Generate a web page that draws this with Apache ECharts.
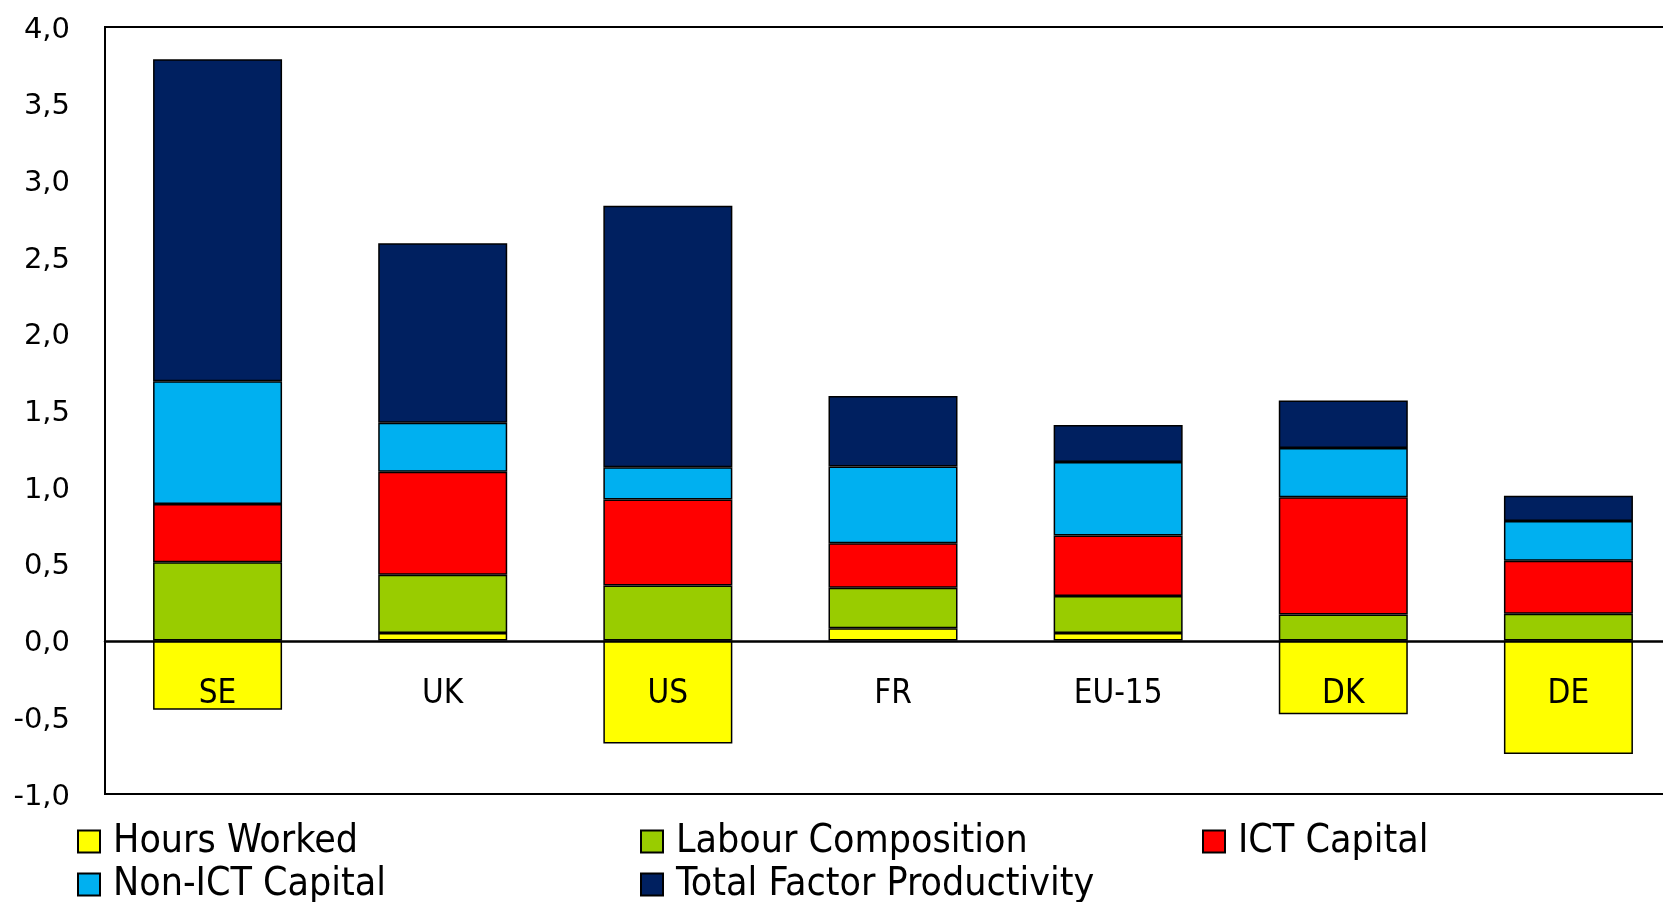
<!DOCTYPE html>
<html>
<head>
<meta charset="utf-8">
<title>Growth contributions</title>
<script src="https://cdn.jsdelivr.net/npm/echarts@6/dist/echarts.min.js"></script>
<style>
  html, body { margin: 0; padding: 0; background: #fff; overflow: hidden; }
  #chart { width: 1700px; height: 902px; }
</style>
</head>
<body>
<div id="chart"></div>
<script>
// Countries / regions on the category axis
const categories = ['SE', 'UK', 'US', 'FR', 'EU-15', 'DK', 'DE'];

// Contributions to growth, percentage points
const hoursWorked        = [-0.45, 0.05, -0.67, 0.08, 0.05, -0.48, -0.74];
const labourComposition  = [0.51, 0.38, 0.36, 0.265, 0.24, 0.17, 0.175];
const ictCapital         = [0.38, 0.67, 0.56, 0.29, 0.395, 0.765, 0.345];
const nonIctCapital      = [0.80, 0.32, 0.21, 0.50, 0.48, 0.32, 0.26];
const tfp                = [2.10, 1.17, 1.705, 0.46, 0.24, 0.31, 0.165];

const seriesNames = ['Hours Worked', 'Labour Composition', 'ICT Capital', 'Non-ICT Capital', 'Total Factor Productivity'];
const seriesColors = ['#FFFF00', '#99CC00', '#FF0000', '#00B0F0', '#002060'];
const seriesData = [hoursWorked, labourComposition, ictCapital, nonIctCapital, tfp];

const narrowFont = '"Liberation Sans Narrow", "DejaVu Sans Condensed", "Roboto Condensed", sans-serif';

const chart = echarts.init(document.getElementById('chart'), null, { renderer: 'canvas' });

const series = seriesNames.map((name, i) => ({
  name: name,
  type: 'bar',
  stack: 'total',
  barWidth: 129,
  data: seriesData[i],
  itemStyle: { color: seriesColors[i], borderColor: '#000', borderWidth: 1.5 },
  emphasis: { disabled: true }
}));

// Legend laid out as a 3-column grid, one legend component per entry
const legendPos = [
  { left: 77, top: 822 },
  { left: 640, top: 822 },
  { left: 1202, top: 822 },
  { left: 77, top: 865 },
  { left: 640, top: 865 }
];
const legends = seriesNames.map((name, i) => ({
  data: [name],
  left: legendPos[i].left,
  top: legendPos[i].top,
  itemWidth: 22,
  itemHeight: 22,
  itemGap: 0,
  icon: 'rect',
  padding: 0,
  selectedMode: false,
  textStyle: { fontFamily: narrowFont, fontSize: 39, color: '#000', padding: [0, 0, 0, 8] }
}));

chart.setOption({
  animation: false,
  backgroundColor: '#fff',
  grid: {
    left: 105, top: 27, width: 1576, height: 767,
    show: true, borderColor: '#000', borderWidth: 2, backgroundColor: 'transparent'
  },
  legend: legends,
  xAxis: {
    type: 'category',
    data: categories,
    z: 10,
    // category axis sits on the zero line
    offset: -153,
    axisLine: { onZero: false, lineStyle: { color: '#000', width: 2.5 } },
    axisTick: { show: false },
    axisLabel: { margin: 37, fontFamily: narrowFont, fontSize: 33, color: '#000' },
    splitLine: { show: false }
  },
  yAxis: {
    type: 'value',
    min: -1,
    max: 4,
    interval: 0.5,
    axisLine: { show: false },
    axisTick: { show: false },
    splitLine: { show: false },
    axisLabel: {
      margin: 35,
      verticalAlign: 'top',
      lineHeight: 6,
      fontFamily: '"DejaVu Sans", sans-serif',
      fontSize: 29,
      color: '#000',
      formatter: v => v.toFixed(1).replace('.', ',')
    }
  },
  series: series
});
</script>
</body>
</html>
